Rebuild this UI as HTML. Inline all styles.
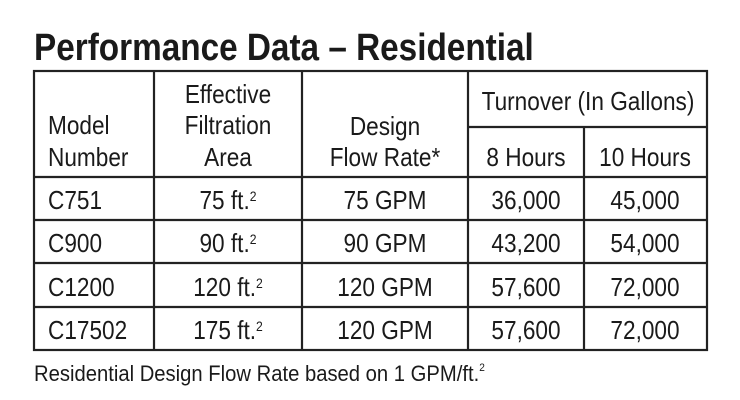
<!DOCTYPE html>
<html><head><meta charset="utf-8"><style>
html,body{margin:0;padding:0;background:#fff;}
svg{display:block}
text{font-family:"Liberation Sans",sans-serif;fill:#1a1a1a;}
</style></head><body>
<svg width="740" height="400" viewBox="0 0 740 400">
<g transform="translate(34,60) scale(0.877,1)"><text x="0" y="0" font-size="38" font-weight="bold" fill="#000">Performance Data – Residential</text></g>
<g stroke="#222" stroke-width="2.2" fill="none">
<rect x="34" y="71" width="673" height="279"/>
<line x1="154" y1="71" x2="154" y2="350"/>
<line x1="302" y1="71" x2="302" y2="350"/>
<line x1="468" y1="71" x2="468" y2="350"/>
<line x1="584" y1="127" x2="584" y2="350"/>
<line x1="468" y1="127" x2="707" y2="127"/>
<line x1="34" y1="177" x2="707" y2="177"/>
<line x1="34" y1="220" x2="707" y2="220"/>
<line x1="34" y1="263" x2="707" y2="263"/>
<line x1="34" y1="307" x2="707" y2="307"/>
</g>
<g font-size="26">
<g transform="translate(48,0) scale(0.87,1)"><text y="134">Model</text><text y="166">Number</text>
<text y="209">C751</text><text y="252">C900</text><text y="296">C1200</text><text y="339">C17502</text></g>
<g transform="translate(228,0) scale(0.87,1)" text-anchor="middle"><text y="103">Effective</text><text y="134">Filtration</text><text y="166">Area</text>
<text y="209">75 ft.<tspan font-size="14" dy="-8">2</tspan></text>
<text y="252">90 ft.<tspan font-size="14" dy="-8">2</tspan></text>
<text y="296">120 ft.<tspan font-size="14" dy="-8">2</tspan></text>
<text y="339">175 ft.<tspan font-size="14" dy="-8">2</tspan></text></g>
<g transform="translate(385,0) scale(0.87,1)" text-anchor="middle"><text y="135">Design</text><text y="166">Flow Rate*</text>
<text y="209">75 GPM</text><text y="252">90 GPM</text><text y="296">120 GPM</text><text y="339">120 GPM</text></g>
<g transform="translate(588,0) scale(0.87,1)" text-anchor="middle"><text y="110">Turnover (In Gallons)</text></g>
<g transform="translate(526,0) scale(0.87,1)" text-anchor="middle"><text y="166">8 Hours</text>
<text y="209">36,000</text><text y="252">43,200</text><text y="296">57,600</text><text y="339">57,600</text></g>
<g transform="translate(645,0) scale(0.87,1)" text-anchor="middle"><text y="166">10 Hours</text>
<text y="209">45,000</text><text y="252">54,000</text><text y="296">72,000</text><text y="339">72,000</text></g>
</g>
<g transform="translate(34,381) scale(0.92,1)"><text font-size="22">Residential Design Flow Rate based on 1 GPM/ft.<tspan font-size="11" dy="-10">2</tspan></text></g>
</svg>
</body></html>
